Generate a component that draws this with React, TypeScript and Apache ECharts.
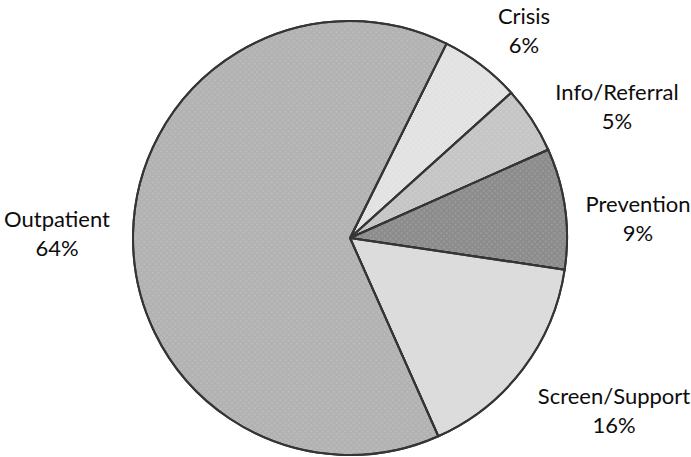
import React, { useEffect, useRef } from 'react';
import * as echarts from 'echarts';

// ---- data ----
const categories = ['Crisis', 'Info/Referral', 'Prevention', 'Screen/Support', 'Outpatient'];
const shares = [6, 5, 9, 16, 64];

// ---- styles / layout ----
const SLICE_COLORS = ['#e2e2e2', '#c5c5c5', '#8c8c8c', '#dcdcdc', '#b2b2b2'];
const LABEL_CENTERS: [number, number][] = [
  [524, 30],
  [617, 106],
  [638, 218],
  [614, 410],
  [57, 233],
];

export default function App() {
  const ref = useRef<HTMLDivElement>(null);

  useEffect(() => {
    if (!ref.current) return;
    const chart = echarts.init(ref.current, null, { renderer: 'svg' });
    const data = categories.map((name, i) => ({
      name,
      value: shares[i],
      itemStyle: {
        color: SLICE_COLORS[i],
        decal:
          i === 3
            ? {
                symbol: 'circle',
                symbolSize: 0.5,
                color: 'rgba(30,30,30,0.6)',
                dashArrayX: [[2, 9], [2, 13], [2, 6]],
                dashArrayY: [2, 7, 2, 10],
                rotation: 0.3,
              }
            : {
                symbol: 'rect',
                symbolSize: 1,
                color: 'rgba(255,255,255,0.12)',
                dashArrayX: [2, 2],
                dashArrayY: [2, 2],
                rotation: 0.785,
              },
      },
    }));

    chart.setOption({
      animation: false,
      backgroundColor: '#ffffff',
      series: [
        {
          type: 'pie',
          center: [350, 238],
          radius: 217,
          startAngle: 63.6,
          clockwise: true,
          avoidLabelOverlap: false,
          itemStyle: {
            borderColor: '#353535',
            borderWidth: 2,
          },
          label: {
            show: true,
            position: 'outside',
            formatter: (p: any) => `${p.name}\n${p.value}%`,
            fontFamily: 'Lato, "Open Sans", sans-serif',
            fontSize: 22,
            lineHeight: 29,
            color: '#0d0d0d',
          },
          labelLine: { show: false },
          labelLayout: (params: any) => {
            const [x, y] = LABEL_CENTERS[params.dataIndex];
            return { x, y, align: 'center', verticalAlign: 'middle' };
          },
          emphasis: { disabled: true },
          data,
        },
      ],
    });

    return () => chart.dispose();
  }, []);

  return (
    <div
      ref={ref}
      style={{ position: 'fixed', left: 0, top: 0, width: 691, height: 457 }}
    />
  );
}
